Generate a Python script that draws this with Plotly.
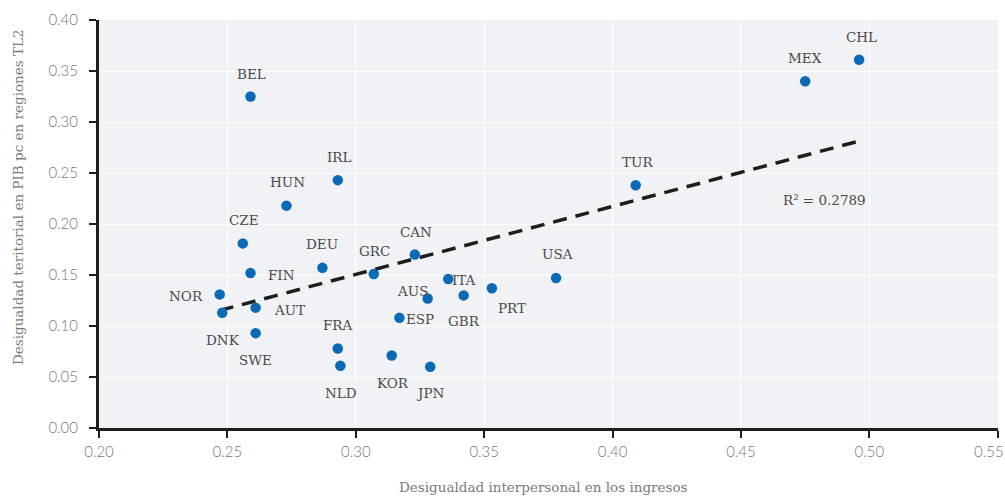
import numpy as np
import plotly.graph_objects as go

# Country codes and their two inequality measures
countries = ["BEL", "CHL", "MEX", "TUR", "IRL", "HUN", "CZE", "FIN", "NOR", "DNK",
             "AUT", "SWE", "DEU", "GRC", "CAN", "FRA", "NLD", "KOR", "JPN", "ESP",
             "AUS", "ITA", "GBR", "PRT", "USA"]
income_ineq = [0.259, 0.496, 0.475, 0.409, 0.293, 0.273, 0.256, 0.259, 0.247, 0.248,
               0.261, 0.261, 0.287, 0.307, 0.323, 0.293, 0.294, 0.314, 0.329, 0.317,
               0.328, 0.336, 0.342, 0.353, 0.378]
regional_ineq = [0.325, 0.361, 0.340, 0.238, 0.243, 0.218, 0.181, 0.152, 0.131, 0.113,
                 0.118, 0.093, 0.157, 0.151, 0.170, 0.078, 0.061, 0.071, 0.060, 0.108,
                 0.127, 0.146, 0.130, 0.137, 0.147]

# Pixel offsets of each country label relative to its marker
label_dx = [1, 2, 0, 2, 1, 1, 1, 31, -34, 1,
            34, 0, 0, 1, 1, 0, 1, 1, 0, 21,
            -15, 16, 0, 20, 1]
label_dy = [23, 23, 23, 23, 23, 24, 23, -2, -2, -27,
            -2, -27, 24, 23, 23, 23, -27, -27, -26, -1,
            7, -1, -26, -20, 24]

x_ticks = [0.20, 0.25, 0.30, 0.35, 0.40, 0.45, 0.50, 0.55]
x_tick_labels = ["0.20", "0.25", "0.30", "0.35", "0.40", "0.45", "0.50", "0.55"]

r2_text = "R² = 0.2789"
x_title = "Desigualdad interpersonal en los ingresos"
y_title = "Desigualdad teritorial en PIB pc en regiones TL2"

x_arr = np.array(income_ineq)
y_arr = np.array(regional_ineq)
slope, intercept = np.polyfit(x_arr, y_arr, 1)
trend_x = np.array([x_arr.min(), x_arr.max()])
trend_y = slope * trend_x + intercept

serif = "DejaVu Serif"
tick_font = dict(family="Lato", size=15, color="#777777", weight=300)
label_font = dict(family=serif, size=13.5, color="#4a4a4a")
title_font = dict(family=serif, size=13.5, color="#7a7a7a")
blue = "#0a6ab6"

fig = go.Figure()
fig.add_trace(go.Scatter(
    x=trend_x, y=trend_y, mode="lines",
    line=dict(color="#1e1e1e", width=3.5, dash="14px,9px"),
    hoverinfo="skip", showlegend=False,
))
fig.add_trace(go.Scatter(
    x=income_ineq, y=regional_ineq, mode="markers", text=countries,
    marker=dict(color=blue, size=10.5),
    showlegend=False,
))

for c, xv, yv, dx, dy in zip(countries, income_ineq, regional_ineq, label_dx, label_dy):
    fig.add_annotation(x=xv, y=yv, text=c, showarrow=False, xshift=dx, yshift=dy,
                       font=label_font)

fig.add_annotation(x=0.4824, y=0.2235, text=r2_text, showarrow=False, font=label_font)

# The last x tick label is pulled inside the page's right edge
fig.add_annotation(x=x_ticks[-1], xref="x", y=0, yref="paper", yshift=-23,
                   xanchor="right", yanchor="middle", xshift=8,
                   text=x_tick_labels[-1], showarrow=False, font=tick_font)

# Axis titles placed as annotations so the plot area keeps fixed margins
fig.add_annotation(xref="paper", yref="paper", x=0.494, y=0, yshift=-59,
                   yanchor="middle", text=x_title, showarrow=False, font=title_font)
fig.add_annotation(xref="paper", yref="paper", x=0, xshift=-81, y=0.566,
                   xanchor="center", textangle=-90, text=y_title, showarrow=False,
                   font=title_font)

fig.update_layout(
    width=1005, height=496,
    margin=dict(l=99, r=7, t=20, b=68),
    paper_bgcolor="white",
    plot_bgcolor="#f1f2f5",
    font=dict(family=serif, color="#666666"),
)
axis_style = dict(
    showgrid=True, gridcolor="white", gridwidth=1, zeroline=False,
    showline=True, linecolor="#1e1e1e", linewidth=3,
    ticks="outside", ticklen=7, tickcolor="#1e1e1e", tickwidth=1.5,
    tickfont=tick_font, automargin=False,
)
fig.update_xaxes(range=[0.20, 0.5501], tickmode="array", tickvals=x_ticks,
                 ticktext=x_tick_labels[:-1] + [""], ticklabelstandoff=1, **axis_style)
fig.update_yaxes(range=[0, 0.40], dtick=0.05, tickformat=".2f",
                 ticklabelstandoff=8, **axis_style)

fig.write_html("out.html")
